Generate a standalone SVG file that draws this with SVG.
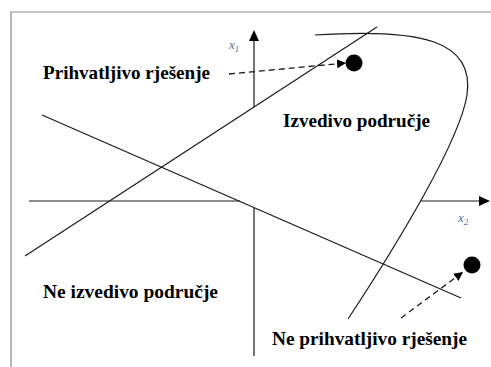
<svg xmlns="http://www.w3.org/2000/svg" width="491" height="367" viewBox="0 0 491 367">
<style>
.ln{stroke:#1a1a1a;stroke-width:1.2;fill:none}
.lbl{font-family:'Liberation Serif','DejaVu Serif',serif;font-weight:bold;font-size:19px;fill:#000}
.ax{font-family:'Liberation Serif','DejaVu Serif',serif;font-style:italic;font-size:13px;fill:#4f6fa8}
.dash{stroke:#1a1a1a;stroke-width:1.3;stroke-dasharray:6 4;fill:none}
</style>
<defs>
<marker id="ah" viewBox="0 0 10 10" refX="10" refY="5" markerWidth="9" markerHeight="9" markerUnits="userSpaceOnUse" orient="auto">
<path d="M0,0 L10,5 L0,10 z" fill="#000"/>
</marker>
</defs>
<rect width="491" height="367" fill="#fff"/>
<path d="M11,367 V12 H491" stroke="#8a8a8a" stroke-width="1.2" fill="none"/>
<g id="axes">
<line class="ln" x1="254" y1="107" x2="254" y2="40"/>
<path d="M254,30 L249,41 L259,41 z" fill="#000"/>
<line class="ln" x1="254" y1="208" x2="254" y2="356"/>
<line class="ln" x1="29" y1="201" x2="240" y2="201"/>
<line class="ln" x1="421" y1="201" x2="480" y2="201"/>
<path d="M490,201 L479,196 L479,206 z" fill="#000"/>
<text class="ax" x="229" y="49">x<tspan font-size="9" dy="3">1</tspan></text>
<text class="ax" x="458" y="222">x<tspan font-size="9" dy="3">2</tspan></text>
</g>
<g id="constraints">
<line class="ln" x1="25" y1="256" x2="377" y2="27"/>
<line class="ln" x1="42" y1="115" x2="461" y2="298"/>
<path class="ln" d="M315,35 C420,28 475,40 467,95 C460,140 400,240 348,319"/>
</g>
<g id="point-ok"><circle cx="354" cy="63" r="8.5" fill="#000"/></g>
<g id="point-bad"><circle cx="472" cy="265" r="8.5" fill="#000"/></g>
<g id="label-ok"><text class="lbl" x="43" y="79" textLength="167" lengthAdjust="spacingAndGlyphs">Prihvatljivo rješenje</text></g>
<g id="label-feasible"><text class="lbl" x="283" y="127" textLength="147" lengthAdjust="spacingAndGlyphs">Izvedivo područje</text></g>
<g id="label-infeasible"><text class="lbl" x="43" y="298" textLength="175" lengthAdjust="spacingAndGlyphs">Ne izvedivo područje</text></g>
<g id="label-bad"><text class="lbl" x="272" y="345" textLength="195" lengthAdjust="spacingAndGlyphs">Ne prihvatljivo rješenje</text></g>
<g id="connectors">
<line class="dash" x1="229" y1="74" x2="346" y2="63" marker-end="url(#ah)"/>
<line class="dash" x1="401" y1="318" x2="463" y2="272" marker-end="url(#ah)"/>
</g>
</svg>
